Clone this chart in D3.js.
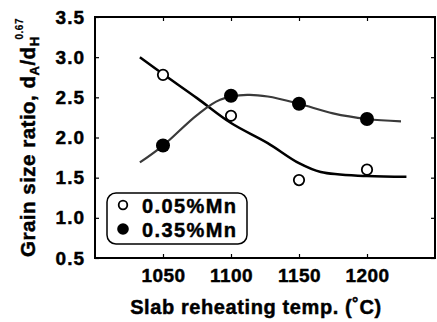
<!DOCTYPE html>
<html>
<head>
<meta charset="utf-8">
<script src="https://cdn.jsdelivr.net/npm/d3@7"></script>
<style>
  html, body { margin: 0; padding: 0; background: #fff; }
  svg { display: block; font-family: "Liberation Sans", Arial, Helvetica, sans-serif; font-weight: bold; }
  svg text { stroke: #000; stroke-width: 0.45px; paint-order: stroke; }
</style>
</head>
<body>
<svg id="chart" width="437" height="322"></svg>
<script>
// Measured grain size ratio vs slab reheating temperature
const temps = [1050, 1100, 1150, 1200];
const lowMn = [2.78, 2.27, 1.47, 1.60];   // 0.05%Mn (open circles)
const highMn = [1.90, 2.52, 2.42, 2.23];  // 0.35%Mn (filled circles)

// Hand-drawn trend curves through each series
const fitLowT = [1033, 1050, 1075, 1100, 1127, 1150, 1166, 1200, 1229];
const fitLowV = [3.00, 2.79, 2.49, 2.18, 1.93, 1.68, 1.57, 1.52, 1.51];
const fitHighT = [1033, 1050, 1075, 1092, 1112, 1127, 1150, 1175, 1200, 1225];
const fitHighV = [1.69, 1.90, 2.28, 2.47, 2.53, 2.51, 2.42, 2.30, 2.23, 2.20];

const xTicks = [1050, 1100, 1150, 1200];
const yTicks = [0.5, 1.0, 1.5, 2.0, 2.5, 3.0, 3.5];
const legendLabels = ["0.05%Mn", "0.35%Mn"];

const W = 437, H = 322;
const m = { left: 95, right: 2, top: 17, bottom: 64 };
const svg = d3.select("#chart");

const x = d3.scaleLinear().domain([1000, 1250]).range([m.left, W - m.right]);
const y = d3.scaleLinear().domain([0.5, 3.5]).range([H - m.bottom, m.top]);

const tickLen = 4;
const plot = svg.append("g");

// axes with inward ticks on all four sides
const axB = d3.axisBottom(x).tickValues(xTicks).tickSize(-tickLen).tickFormat(d3.format("d")).tickPadding(8);
const axT = d3.axisTop(x).tickValues(xTicks).tickSize(-tickLen).tickFormat("");
const axL = d3.axisLeft(y).tickValues(yTicks).tickSize(-tickLen).tickFormat(d3.format(".1f")).tickPadding(10);
const axR = d3.axisRight(y).tickValues(yTicks).tickSize(-tickLen).tickFormat("");

function styleAxis(g) {
  g.select(".domain").remove();
  g.selectAll(".tick line").attr("stroke", "#000").attr("stroke-width", 1.2);
  g.selectAll(".tick text").attr("fill", "#000").style("font-size", "19px").style("font-weight", "bold");
}
plot.append("g").attr("transform", `translate(0,${H - m.bottom})`).call(axB).call(styleAxis)
  .selectAll(".tick text").attr("dy", "0.85em").style("letter-spacing", "0.4px");
plot.append("g").attr("transform", `translate(0,${m.top})`).call(axT).call(styleAxis);
plot.append("g").attr("transform", `translate(${m.left},0)`).call(axL).call(styleAxis)
  .selectAll(".tick text").style("letter-spacing", "1px");
plot.append("g").attr("transform", `translate(${W - m.right},0)`).call(axR).call(styleAxis);

// frame
plot.append("rect")
  .attr("x", x(1000)).attr("y", y(3.5))
  .attr("width", x(1250) - x(1000)).attr("height", y(0.5) - y(3.5))
  .attr("fill", "none").attr("stroke", "#000").attr("stroke-width", 2);

// trend curves
const line = d3.line().x(d => x(d[0])).y(d => y(d[1])).curve(d3.curveCatmullRom.alpha(0.5));
plot.append("path")
  .datum(fitLowT.map((t, i) => [t, fitLowV[i]]))
  .attr("d", line).attr("fill", "none").attr("stroke", "#000").attr("stroke-width", 2.5);
plot.append("path")
  .datum(fitHighT.map((t, i) => [t, fitHighV[i]]))
  .attr("d", line).attr("fill", "none").attr("stroke", "#3a3a3a").attr("stroke-width", 2.2);

// markers
plot.selectAll(".low").data(temps).enter().append("circle")
  .attr("cx", (d) => x(d)).attr("cy", (d, i) => y(lowMn[i])).attr("r", 5.2)
  .attr("fill", "#fff").attr("stroke", "#000").attr("stroke-width", 1.8);
plot.selectAll(".high").data(temps).enter().append("circle")
  .attr("cx", (d) => x(d)).attr("cy", (d, i) => y(highMn[i])).attr("r", 7)
  .attr("fill", "#000");

// legend
const lg = svg.append("g");
lg.append("rect").attr("x", 107).attr("y", 193).attr("width", 140).attr("height", 51)
  .attr("rx", 9).attr("fill", "#fff").attr("stroke", "#000").attr("stroke-width", 1.5);
lg.append("circle").attr("cx", 123).attr("cy", 205).attr("r", 4.3)
  .attr("fill", "#fff").attr("stroke", "#000").attr("stroke-width", 1.8);
lg.append("circle").attr("cx", 123).attr("cy", 229).attr("r", 5.8).attr("fill", "#000");
lg.selectAll("text").data(legendLabels).enter().append("text")
  .attr("x", 142).attr("y", (d, i) => 213 + i * 24)
  .style("font-size", "20px").style("letter-spacing", "1.4px")
  .text(d => d);

// axis titles
svg.append("text").attr("x", 256).attr("y", 314).attr("text-anchor", "middle")
  .style("font-size", "20px").style("letter-spacing", "0.6px")
  .text("Slab reheating temp. (\u02DAC)");

const yl = svg.append("text").attr("transform", "translate(35,257) rotate(-90)")
  .style("font-size", "20.5px").style("letter-spacing", "0.5px");
yl.append("tspan").text("Grain size ratio, d");
yl.append("tspan").attr("dy", 4).style("font-size", "13px").text("A");
yl.append("tspan").attr("dy", -4).text("/d");
yl.append("tspan").attr("dy", 4).style("font-size", "13px").text("H");
yl.append("tspan").attr("dy", -16).attr("dx", -3).style("font-size", "10px").style("stroke-width", "0.2px").text("0.67");
</script>
</body>
</html>
